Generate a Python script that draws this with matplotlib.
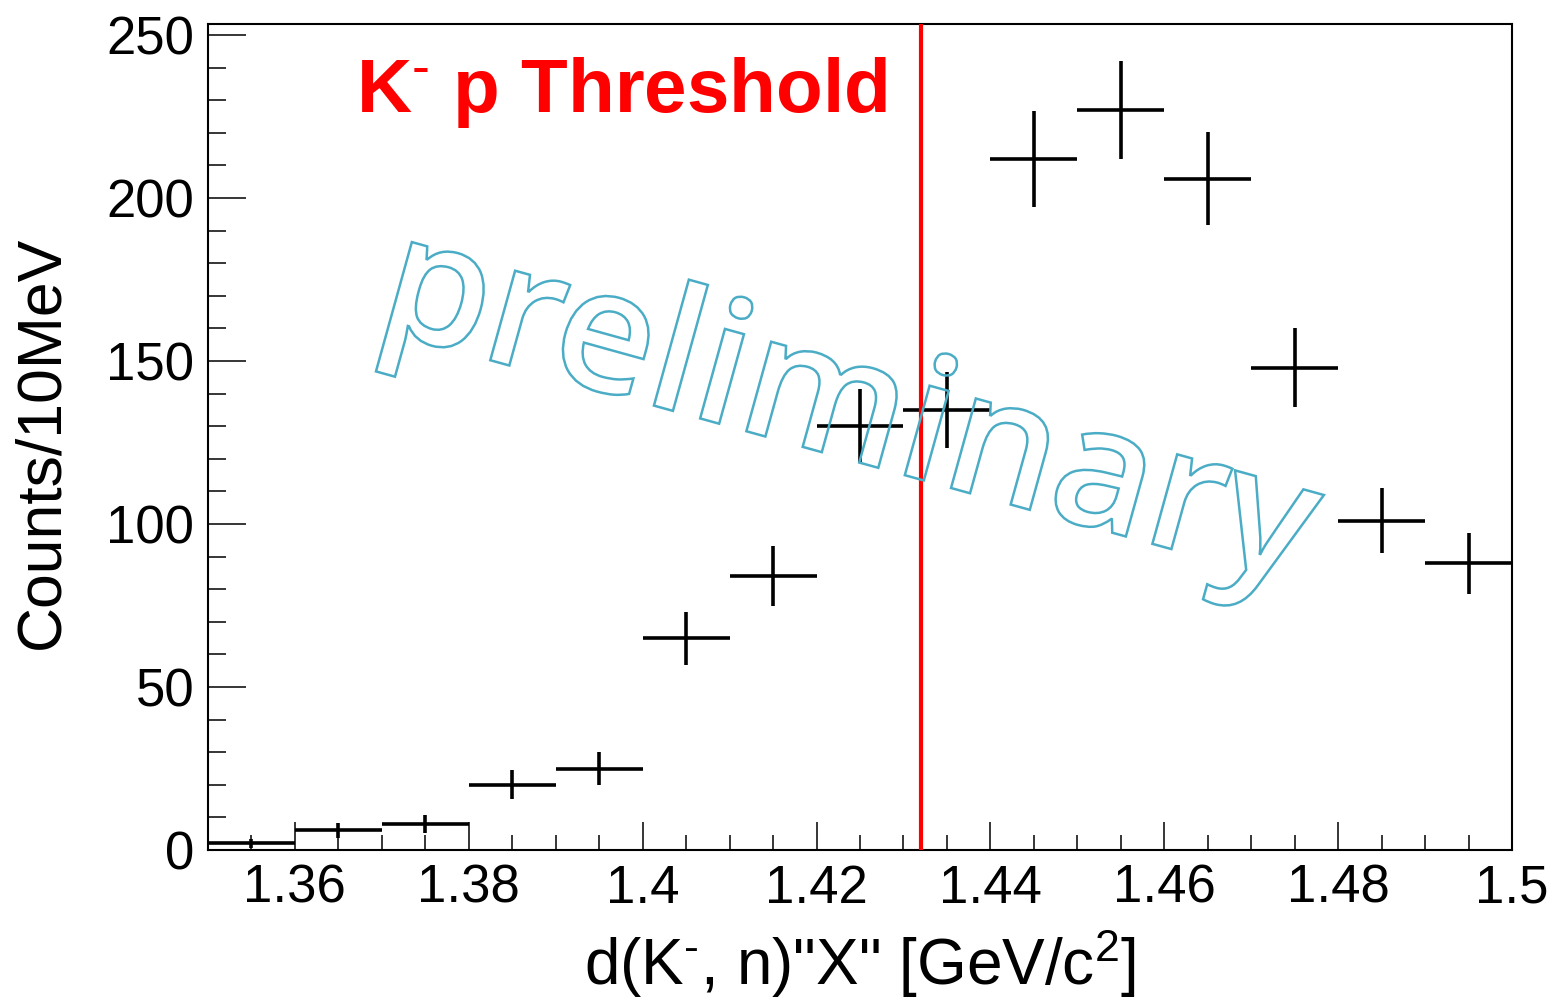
import numpy as np
import matplotlib
matplotlib.use("Agg")
import matplotlib.pyplot as plt
from matplotlib.textpath import TextPath
from matplotlib.patches import PathPatch
from matplotlib.font_manager import FontProperties
import matplotlib.transforms as mtransforms
from matplotlib.ticker import MultipleLocator, FuncFormatter

plt.rcParams['font.family'] = ['Liberation Sans', 'DejaVu Sans']
plt.rcParams['mathtext.fontset'] = 'custom'
plt.rcParams['mathtext.rm'] = 'Liberation Sans'
plt.rcParams['mathtext.it'] = 'Liberation Sans'
plt.rcParams['mathtext.bf'] = 'Liberation Sans:bold'

# Data (bin centers in GeV/c^2, counts per 10 MeV, statistical errors)
bin_centers = [1.355, 1.365, 1.375, 1.385, 1.395, 1.405, 1.415, 1.425,
               1.435, 1.445, 1.455, 1.465, 1.475, 1.485, 1.495]
counts = [2, 6, 8, 20, 25, 65, 84, 130, 135, 212, 227, 206, 148, 101, 88]
errors = [1.4, 2.4, 2.8, 4.5, 5.0, 8.1, 9.2, 11.4, 11.6, 14.6, 15.1, 14.4, 12.2, 10.0, 9.4]
bin_half_width = 0.005
threshold = 1.4320
x_ticks = [1.36, 1.38, 1.40, 1.42, 1.44, 1.46, 1.48, 1.50]

W, H = 1548, 1000
fig = plt.figure(figsize=(W / 100, H / 100), dpi=100)
ax = fig.add_axes([208 / W, 1 - 850 / H, (1512 - 208) / W, (850 - 24) / H])

ax.errorbar(bin_centers, counts, yerr=errors, xerr=bin_half_width,
            fmt='none', ecolor='black', elinewidth=2.6, capsize=0, zorder=3)

ax.axvline(threshold, color='#ff0000', lw=3.0, zorder=4)

ax.set_xlim(1.35, 1.50)
ax.set_ylim(0, 253.4)

ax.xaxis.set_minor_locator(MultipleLocator(0.005))
ax.yaxis.set_major_locator(MultipleLocator(50))
ax.yaxis.set_minor_locator(MultipleLocator(10))
ax.set_xticks(x_ticks)
ax.xaxis.set_major_formatter(FuncFormatter(lambda v, p: ('%.2f' % v).rstrip('0').rstrip('.')))
ax.tick_params(axis='both', which='both', direction='in', top=False, right=False,
               width=1.1, labelsize=38, colors='black')
ax.tick_params(axis='x', which='major', length=20, pad=10)
ax.tick_params(axis='x', which='minor', length=11)
ax.tick_params(axis='y', which='major', length=27, pad=10)
ax.tick_params(axis='y', which='minor', length=13)
for s in ax.spines.values():
    s.set_linewidth(1.5)

fig.text(860 / W, 1 - 985 / H, r'd(K$^{\text{-}}$, n)"X" [GeV/c$^{2}$]', fontsize=46,
         ha='center', va='baseline')
fig.text(42 / W, 1 - 442 / H, 'Counts/10MeV', fontsize=45, rotation=90,
         ha='center', va='center')

ax.text(356 / W, 1 - 112 / H, r'K$^{\text{-}}$ p Threshold', transform=fig.transFigure,
        fontsize=55, fontweight='bold', color='#ff0000', ha='left', va='baseline')

# "preliminary" outlined watermark
fp = FontProperties(family='Open Sans', weight='semibold')
tp = TextPath((0, 0), 'preliminary', size=200, prop=fp)
bb = tp.get_extents()
tr = (mtransforms.Affine2D().translate(-bb.x0 - bb.width / 2, -bb.y0 - bb.height / 2)
      .scale(0.86, 0.86).rotate_deg(-15.5)
      .translate(855, H - 415))
patch = PathPatch(tr.transform_path(tp), facecolor='none', edgecolor='#4bacc6', lw=1.8,
                  transform=mtransforms.IdentityTransform(), zorder=5)
fig.add_artist(patch)

fig.savefig('out.png', dpi=100)
